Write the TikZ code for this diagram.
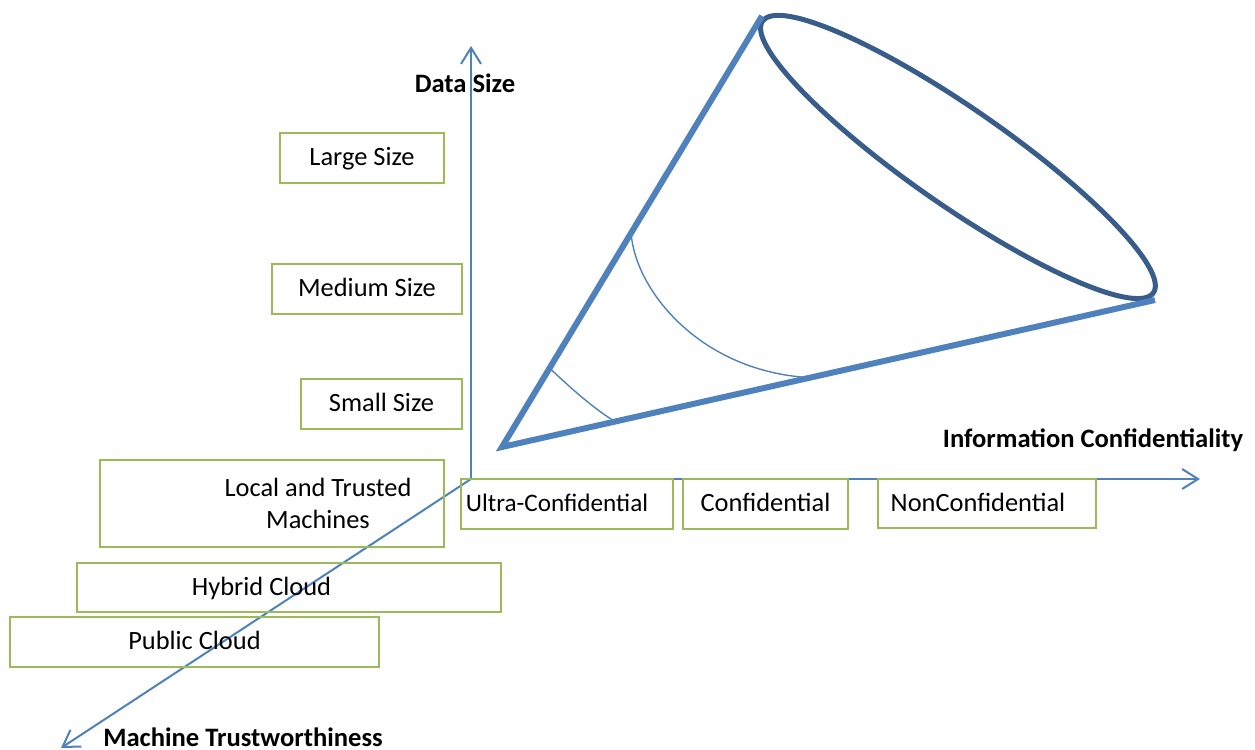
\documentclass[tikz,border=0pt]{standalone}
\usepackage{fontspec}
\setmainfont{Carlito}
\usetikzlibrary{arrows.meta}
\usetikzlibrary{calc}
\definecolor{axisblue}{HTML}{4F81BD}
\definecolor{rimblue}{HTML}{385D8A}
\definecolor{boxgreen}{HTML}{9BBB59}
\tikzset{
    axis/.style={axisblue, line width=1pt, -{Straight Barb[length=8pt,width=10pt]}},
    coneline/.style={axisblue, line width=3pt},
    rimline/.style={rimblue, line width=2.5pt},
    slice/.style={axisblue, line width=0.7pt},
    catbox/.style={draw=boxgreen, line width=1pt, inner sep=0pt, text height=0.8em, text depth=0.04em,
                   font=\fontsize{13.2}{16}\selectfont, align=center},
    catlabel/.style={font=\fontsize{13.2}{16}\selectfont, align=center},
    axislabel/.style={font=\fontsize{13.3}{15}\selectfont\bfseries},
}

\begin{document}
\begin{tikzpicture}[x=0.5pt, y=-0.5pt]
    \useasboundingbox (0,0) rectangle (1255,750);

    % axes
    \coordinate (O) at (471,479);
    \coordinate (ytip) at (471,46);
    \coordinate (xtip) at (1200,479);
    \coordinate (ztip) at (61,748);
    \draw[axis] (O) -- (ytip);
    \draw[axis] (O) -- (xtip);
    \draw[axis] (O) -- (ztip);

    \node[axislabel] (datasize) at (465,83) {Data Size};
    \node[axislabel] (infoconf) at (1093,440) {Information Confidentiality};
    \node[axislabel] (machtrust) at (243,737) {Machine Trustworthiness};

    % data size
    \node[catbox, minimum width=82pt, minimum height=25pt] (large) at (362,158) {Large Size};
    \node[catbox, minimum width=95pt, minimum height=25pt] (medium) at (367,289) {Medium Size};
    \node[catbox, minimum width=80.5pt, minimum height=25pt] (small) at (381.5,404) {Small Size};

    % machines
    \node[catbox, minimum width=172pt, minimum height=43.5pt,
          label={[catlabel, xshift=23pt]center:Local and Trusted\\Machines}] (local) at (272,503.5) {};
    \node[catbox, minimum width=212pt, minimum height=24.5pt,
          label={[catbox, draw=none, xshift=-13.75pt]center:Hybrid Cloud}] (hybrid) at (289,587.5) {};
    \node[catbox, minimum width=184.5pt, minimum height=25pt] (public) at (194.5,642) {Public Cloud};

    % confidentiality
    \node[catbox, minimum width=106pt, minimum height=25pt,
          label={[catbox, draw=none, font=\fontsize{12.6}{16}\selectfont, xshift=-5pt]center:Ultra-Confidential}] (ultra) at (567,504) {};
    \node[catbox, minimum width=82.5pt, minimum height=25pt] (conf) at (765.5,504) {Confidential};
    \node[catbox, minimum width=109pt, minimum height=24.5pt,
          label={[catbox, draw=none, xshift=-4.5pt]center:NonConfidential}] (nonconf) at (987,503.5) {};

    % cone
    \coordinate (apex) at (502,447);
    \coordinate (rimA) at (762,16);
    \coordinate (rimB) at (1155,300);
    \coordinate (rimC) at (958,157);
    \draw[rimline, rotate around={-34.8:(rimC)}] (rimC) ellipse [x radius=119pt, y radius=24.3pt];
    \draw[coneline] (rimA) -- (apex) -- (rimB);

    \coordinate (s1) at ($(apex)!0.183!(rimA)$);
    \coordinate (s2) at ($(apex)!0.173!(rimB)$);
    \coordinate (b1) at ($(apex)!0.4965!(rimA)$);
    \coordinate (b2) at ($(apex)!0.4717!(rimB)$);
    \draw[slice] (s1) .. controls ($(s1)+(17,16)$) and ($(s2)+(-23,-14)$) .. (s2);
    \draw[slice] (b1) .. controls ($(b1)+(4,57)$) and ($(b2)+(-110,-6)$) .. (b2);
\end{tikzpicture}
\end{document}
